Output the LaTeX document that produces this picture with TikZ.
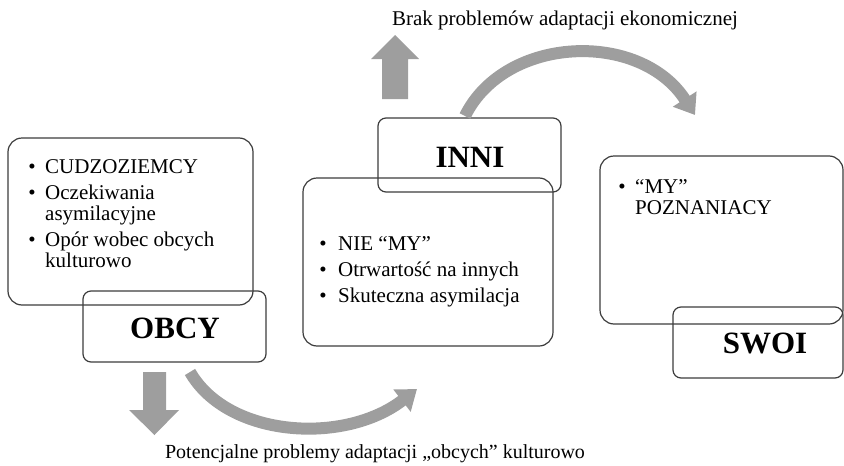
\documentclass[tikz,border=0pt]{standalone}
\usepackage{fontspec}
\setmainfont{Liberation Serif}
\usetikzlibrary{arrows.meta}
\definecolor{arrowgray}{RGB}{158,158,158}
\definecolor{boxline}{RGB}{60,60,60}
\begin{document}
\begin{tikzpicture}[x=1pt,y=-1pt,
  bigbox/.style={draw=boxline,line width=1.2pt,rounded corners=14pt},
  lblbox/.style={draw=boxline,line width=1.2pt,rounded corners=8pt},
  lbl/.style={font=\fontsize{31}{33}\selectfont\bfseries,anchor=base,inner sep=0pt},
  txt/.style={font=\fontsize{21}{23}\selectfont,anchor=base west,inner sep=0pt},
  bul/.style={font=\fontsize{21}{23}\selectfont,anchor=base,inner sep=0pt},
  captxt/.style={font=\fontsize{21}{23}\selectfont,anchor=base,inner sep=0pt},
  curv/.style={draw=arrowgray,line width=12pt,-{Triangle[width=27pt,length=19pt]}},
  blk/.style={fill=arrowgray}]
\useasboundingbox (0,0) rectangle (844,466);

% OBCY
\draw[bigbox] (8,138) rectangle (253,305);
\draw[lblbox] (83,291) rectangle (266,362);
\node[lbl] (obcy) at (175,338) {OBCY};
\node[bul] (ob1) at (32,173) {•};
\node[txt] (o1) at (45,173) {CUDZOZIEMCY};
\node[bul] (ob2) at (32,199) {•};
\node[txt] (o2) at (45,199) {Oczekiwania};
\node[txt] (o3) at (45,220) {asymilacyjne};
\node[bul] (ob3) at (32,246) {•};
\node[txt] (o4) at (45,246) {Opór wobec obcych};
\node[txt] (o5) at (45,267) {kulturowo};

% INNI
\draw[lblbox] (378,118) rectangle (561,192);
\draw[bigbox] (303,178) rectangle (553,346);
\node[lbl] (inni) at (470,167) {INNI};
\node[bul] (ib1) at (323,250) {•};
\node[txt] (i1) at (338,250) {NIE “MY”};
\node[bul] (ib2) at (323,276) {•};
\node[txt] (i2) at (338,276) {Otrwartość na innych};
\node[bul] (ib3) at (323,302) {•};
\node[txt] (i3) at (338,302) {Skuteczna asymilacja};

% SWOI
\draw[bigbox] (600,156) rectangle (843,324);
\draw[lblbox] (673,307) rectangle (843,378);
\node[lbl] (swoi) at (765,353) {SWOI};
\node[bul] (sb1) at (622,193) {•};
\node[txt] (s1) at (635,193) {“MY”};
\node[txt] (s2) at (635,214) {POZNANIACY};

% block arrows
\fill[blk] (382,99) -- (382,59) -- (371,59) -- (395,35) -- (419,59) -- (408,59) -- (408,99) -- cycle;
\fill[blk] (143,372) -- (166,372) -- (166,410) -- (179,410) -- (154.5,435) -- (129,410) -- (143,410) -- cycle;

% curved arrows
\coordinate (c1s) at (190,372);
\coordinate (c1e) at (417,389);
\draw[curv] (c1s) .. controls (228,438) and (345,445) .. (c1e);
\coordinate (c2s) at (465,116);
\coordinate (c2e) at (695,115);
\draw[curv] (c2s) .. controls (505,35) and (640,30) .. (c2e);

% captions
\node[captxt] (top) at (565,25) {Brak problemów adaptacji ekonomicznej};
\node[captxt,font=\fontsize{20}{22}\selectfont] (bot) at (375,458) {Potencjalne problemy adaptacji „obcych” kulturowo};
\end{tikzpicture}
\end{document}
